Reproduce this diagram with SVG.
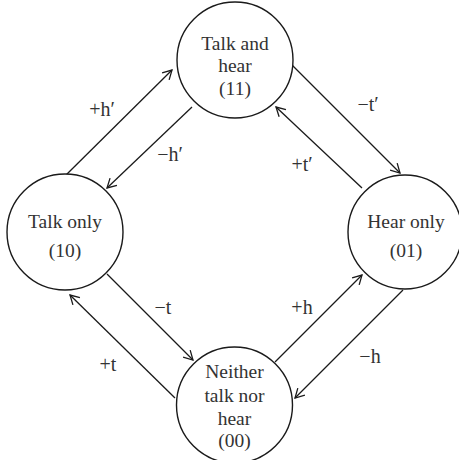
<svg xmlns="http://www.w3.org/2000/svg" width="459" height="460" viewBox="0 0 459 460">
<defs>
<marker id="ah" markerWidth="12" markerHeight="12" refX="0" refY="0" viewBox="-10 -6 12 12" orient="auto" markerUnits="userSpaceOnUse">
<path d="M-9,-5 L0,0 L-9,5" fill="none" stroke="#1a1a1a" stroke-width="1.3"/>
</marker>
</defs>
<style>
.node circle{fill:#fff;stroke:#1a1a1a;stroke-width:1.4}
.node text{font-family:"Liberation Serif","DejaVu Serif",serif;font-size:19.5px;fill:#333;text-anchor:middle}
.edge line{stroke:#1a1a1a;stroke-width:1.3;marker-end:url(#ah)}
.lbl{font-family:"Liberation Serif","DejaVu Serif",serif;font-size:20px;fill:#333;text-anchor:middle}
</style>
<rect width="459" height="460" fill="#fff"/>
<g id="connectors" class="edge">
<line x1="66" y1="175" x2="172" y2="70"/>
<line x1="192" y1="107" x2="107" y2="188"/>
<line x1="292" y1="65" x2="400" y2="173"/>
<line x1="362" y1="188" x2="276" y2="107"/>
<line x1="107" y1="274" x2="193" y2="360"/>
<line x1="175" y1="398" x2="70" y2="295"/>
<line x1="275" y1="362" x2="362" y2="275"/>
<line x1="403" y1="290" x2="295" y2="398"/>
<text class="lbl" x="102" y="116">+h′</text>
<text class="lbl" x="170" y="161">−h′</text>
<text class="lbl" x="368" y="111">−t′</text>
<text class="lbl" x="302" y="171">+t′</text>
<text class="lbl" x="163" y="314">−t</text>
<text class="lbl" x="108" y="371">+t</text>
<text class="lbl" x="302" y="314">+h</text>
<text class="lbl" x="370" y="363">−h</text>
</g>
<g id="node-11" class="node">
<circle cx="235" cy="60" r="58"/>
<text x="235" y="50">Talk and</text>
<text x="235" y="72">hear</text>
<text x="235" y="95">(11)</text>
</g>
<g id="node-10" class="node">
<circle cx="65" cy="232" r="58"/>
<text x="65" y="228">Talk only</text>
<text x="65" y="257">(10)</text>
</g>
<g id="node-01" class="node">
<circle cx="405" cy="232" r="57"/>
<text x="406" y="228">Hear only</text>
<text x="406" y="257">(01)</text>
</g>
<g id="node-00" class="node">
<circle cx="234.5" cy="405" r="58"/>
<text x="234.5" y="378">Neither</text>
<text x="234.5" y="402">talk nor</text>
<text x="234.5" y="425">hear</text>
<text x="234.5" y="447">(00)</text>
</g>
</svg>
